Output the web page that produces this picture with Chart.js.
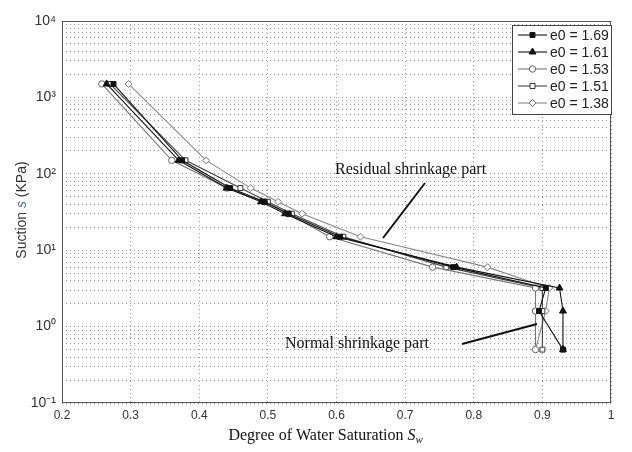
<!DOCTYPE html>
<html>
<head>
<meta charset="utf-8">
<script src="https://cdn.jsdelivr.net/npm/chart.js@4"></script>
<style>
  html, body { margin: 0; padding: 0; background: #fff; }
  #wrap { width: 632px; height: 452px; position: relative; }
</style>
</head>
<body>
<div id="wrap"><canvas id="chart" width="632" height="452"></canvas></div>
<script>
// niveaux de succion (kPa) communs aux 5 essais
const suction = [1500, 150, 65, 43, 30, 15, 6, 3.2, 1.6, 0.5];

// degre de saturation, un tableau par indice des vides
const sw169 = [0.275, 0.375, 0.445, 0.495, 0.53, 0.605, 0.77, 0.905, 0.895, 0.93];
const sw161 = [0.265, 0.37, 0.44, 0.49, 0.525, 0.60, 0.775, 0.925, 0.93, 0.93];
const sw153 = [0.258, 0.36, 0.44, 0.495, 0.53, 0.59, 0.74, 0.89, 0.89, 0.89];
const sw151 = [0.27, 0.38, 0.46, 0.50, 0.535, 0.61, 0.76, 0.90, 0.90, 0.90];
const sw138 = [0.297, 0.41, 0.475, 0.515, 0.55, 0.635, 0.82, 0.91, 0.905, 0.89];

const seriesLabels = ['e0 = 1.69', 'e0 = 1.61', 'e0 = 1.53', 'e0 = 1.51', 'e0 = 1.38'];
const xTicks = [0.2, 0.3, 0.4, 0.5, 0.6, 0.7, 0.8, 0.9, 1];
const supers = {'-1': '⁻¹', '0': '⁰', '1': '¹', '2': '²', '3': '³', '4': '⁴'};

function pts(sw) {
  return sw.map((v, i) => ({x: v, y: suction[i]}));
}

// style de chaque courbe
const styles = [
  {line: '#111', fill: '#111', stroke: '#111', shape: 'rect', r: 3.5},
  {line: '#111', fill: '#111', stroke: '#111', shape: 'triangle', r: 4},
  {line: '#777', fill: '#fff', stroke: '#666', shape: 'circle', r: 3.2},
  {line: '#444', fill: '#fff', stroke: '#333', shape: 'rect', r: 3.5},
  {line: '#888', fill: '#fff', stroke: '#777', shape: 'rectRot', r: 3.5}
];
const allSw = [sw169, sw161, sw153, sw151, sw138];

const datasets = allSw.map((sw, i) => ({
  label: seriesLabels[i],
  data: pts(sw),
  showLine: true,
  borderColor: styles[i].line,
  borderWidth: 1.1,
  pointStyle: styles[i].shape,
  pointRadius: styles[i].r,
  pointBackgroundColor: styles[i].fill,
  pointBorderColor: styles[i].stroke,
  pointBorderWidth: 1
}));

// ticks log: 1..9 x 10^n
const logTicks = [];
for (let e = -1; e < 4; e++) {
  for (let m = 1; m < 10; m++) logTicks.push(m * Math.pow(10, e));
}
logTicks.push(10000);

// annotations, cadre, legende et titres d'axes dessines a la main
const decorPlugin = {
  id: 'decor',
  afterDraw(chart) {
    const ctx = chart.ctx;
    const a = chart.chartArea;
    ctx.save();

    // cadre
    ctx.strokeStyle = '#555';
    ctx.lineWidth = 1;
    ctx.strokeRect(a.left + 0.5, a.top + 0.5, a.right - a.left - 1, a.bottom - a.top - 1);

    // textes annotation
    ctx.fillStyle = '#111';
    ctx.font = '16px "Liberation Serif", "DejaVu Serif", serif';
    ctx.textBaseline = 'middle';
    ctx.textAlign = 'left';
    ctx.fillText('Residual shrinkage part', 335, 170);
    ctx.fillText('Normal shrinkage part', 285, 344);
    ctx.strokeStyle = '#111';
    ctx.lineWidth = 2;
    ctx.beginPath();
    ctx.moveTo(425, 183); ctx.lineTo(383, 238);
    ctx.moveTo(462, 344); ctx.lineTo(537, 324);
    ctx.stroke();

    // legende
    const lx = 512, ly = 25, lw = 99, lh = 89;
    ctx.fillStyle = '#fff';
    ctx.fillRect(lx, ly, lw, lh);
    ctx.strokeStyle = '#444';
    ctx.lineWidth = 1;
    ctx.strokeRect(lx + 0.5, ly + 0.5, lw, lh);
    ctx.font = '14px "Liberation Sans", Arial, sans-serif';
    seriesLabels.forEach((lab, i) => {
      const y = ly + 10 + i * 17;
      const st = styles[i];
      ctx.strokeStyle = st.line;
      ctx.lineWidth = 1.1;
      ctx.beginPath();
      ctx.moveTo(lx + 6, y); ctx.lineTo(lx + 35, y);
      ctx.stroke();
      ctx.fillStyle = st.fill;
      ctx.strokeStyle = st.stroke;
      ctx.lineWidth = 1;
      Chart.helpers.drawPoint(ctx, {pointStyle: st.shape, radius: st.r, borderWidth: 1}, lx + 20.5, y);
      ctx.fillStyle = '#222';
      ctx.textAlign = 'left';
      ctx.fillText(lab, lx + 38, y + 1);
    });

    // titre axe x avec S indice w
    ctx.fillStyle = '#111';
    ctx.textAlign = 'left';
    ctx.textBaseline = 'alphabetic';
    const base = 'Degree of Water Saturation ';
    ctx.font = '16px "Liberation Serif", "DejaVu Serif", serif';
    const w1 = ctx.measureText(base).width;
    ctx.font = 'italic 16px "Liberation Serif", "DejaVu Serif", serif';
    const w2 = ctx.measureText('S').width;
    const x0 = 326 - (w1 + w2 + 8) / 2;
    ctx.font = '16px "Liberation Serif", "DejaVu Serif", serif';
    ctx.fillText(base, x0, 440);
    ctx.font = 'italic 16px "Liberation Serif", "DejaVu Serif", serif';
    ctx.fillText('S', x0 + w1, 440);
    ctx.font = 'italic 11px "Liberation Serif", "DejaVu Serif", serif';
    ctx.fillText('w', x0 + w1 + w2, 443);

    // titre axe y
    ctx.translate(22, 210);
    ctx.rotate(-Math.PI / 2);
    ctx.font = '14px "Liberation Sans", Arial, sans-serif';
    const t1 = 'Suction ', t3 = ' (KPa)';
    const a1 = ctx.measureText(t1).width;
    ctx.font = 'italic 14px "Liberation Sans", Arial, sans-serif';
    const a2 = ctx.measureText('s').width;
    ctx.font = '14px "Liberation Sans", Arial, sans-serif';
    const a3 = ctx.measureText(t3).width;
    const sx = -(a1 + a2 + a3) / 2;
    ctx.fillStyle = '#333';
    ctx.textBaseline = 'middle';
    ctx.fillText(t1, sx, 0);
    ctx.font = 'italic 14px "Liberation Sans", Arial, sans-serif';
    ctx.fillStyle = '#4a6fa5';
    ctx.fillText('s', sx + a1, 0);
    ctx.font = '14px "Liberation Sans", Arial, sans-serif';
    ctx.fillStyle = '#333';
    ctx.fillText(t3, sx + a1 + a2, 0);

    ctx.restore();
  }
};

const ctx = document.getElementById('chart').getContext('2d');
new Chart(ctx, {
  type: 'scatter',
  data: {datasets: datasets},
  options: {
    responsive: false,
    animation: false,
    layout: {padding: {top: 21, right: 21, left: 0, bottom: 0}},
    plugins: {legend: {display: false}, tooltip: {enabled: false}},
    scales: {
      x: {
        type: 'linear',
        min: 0.2, max: 1,
        afterBuildTicks: s => { s.ticks = xTicks.map(v => ({value: v})); },
        afterFit: s => { s.height = 49; },
        grid: {color: '#999', lineWidth: 1, drawTicks: false},
        border: {display: false, dash: [1, 3]},
        ticks: {
          color: '#333',
          padding: 5,
          font: {family: '"Liberation Sans", Arial, sans-serif', size: 12},
          maxRotation: 0,
          callback: v => (v === 1 ? '1' : v.toFixed(1))
        }
      },
      y: {
        type: 'logarithmic',
        min: 0.1, max: 10000,
        afterBuildTicks: s => { s.ticks = logTicks.map(v => ({value: v})); },
        afterFit: s => { s.width = 62; },
        grid: {color: '#999', lineWidth: 1, drawTicks: false},
        border: {display: false, dash: [1, 3]},
        ticks: {
          color: '#333',
          padding: 6,
          autoSkip: false,
          font: {family: '"Liberation Sans", Arial, sans-serif', size: 14},
          callback: v => {
            const e = Math.round(Math.log10(v));
            if (Math.abs(v - Math.pow(10, e)) > 1e-9 * v) return '';
            return '10' + supers[String(e)];
          }
        }
      }
    }
  },
  plugins: [decorPlugin]
});
</script>
</body>
</html>
